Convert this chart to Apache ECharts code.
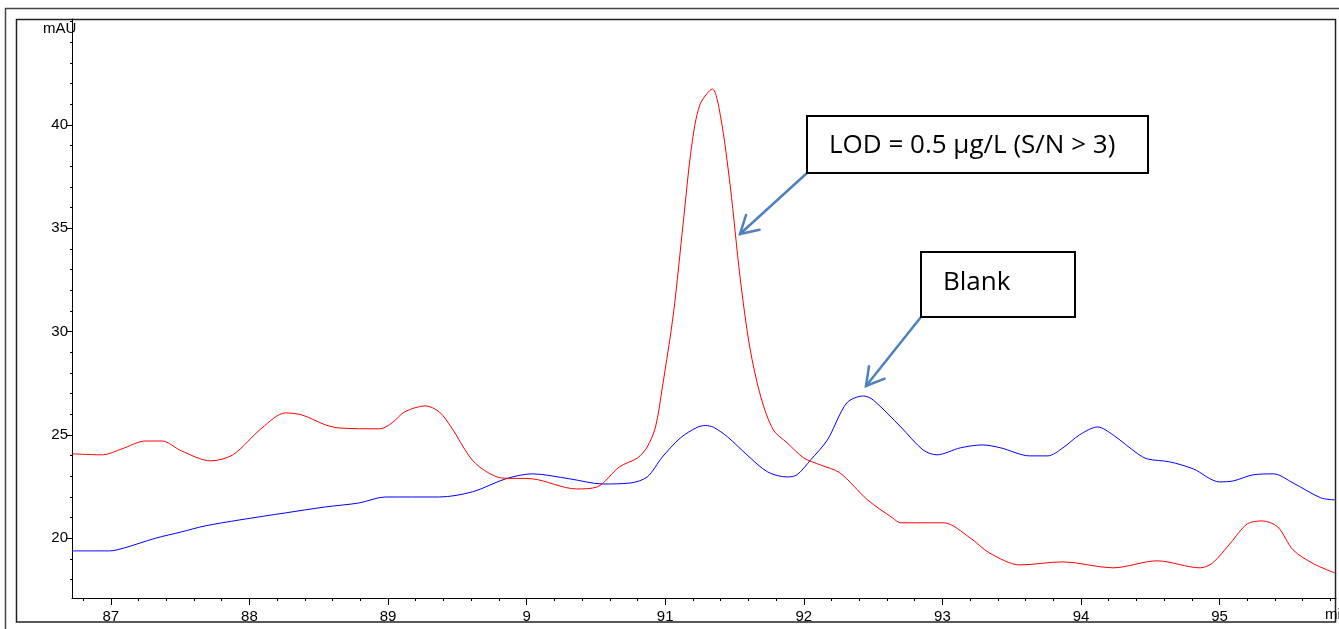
<!DOCTYPE html>
<html>
<head>
<meta charset="utf-8">
<script src="https://cdn.jsdelivr.net/npm/echarts@6/dist/echarts.min.js"></script>
<style>
html, body { margin: 0; padding: 0; background: #fff; }
#chart { width: 1339px; height: 629px; }
</style>
</head>
<body>
<div id="chart"></div>
<script>
// sample trace (red)
var timeSample = [8.672, 8.694, 8.708, 8.725, 8.737, 8.751, 8.772, 8.788, 8.809, 8.826, 8.838, 8.855, 8.865, 8.894, 8.903, 8.912, 8.927, 8.937, 8.946, 8.959, 8.968, 8.982, 9.004, 9.036, 9.051, 9.067, 9.080, 9.087, 9.093, 9.098, 9.106, 9.113, 9.119, 9.125, 9.134, 9.140, 9.147, 9.154, 9.161, 9.169, 9.178, 9.188, 9.200, 9.212, 9.226, 9.246, 9.264, 9.270, 9.301, 9.320, 9.334, 9.356, 9.387, 9.423, 9.455, 9.486, 9.495, 9.508, 9.520, 9.531, 9.542, 9.553, 9.568, 9.583];
var absSample = [2.408, 2.403, 2.432, 2.470, 2.470, 2.422, 2.374, 2.403, 2.533, 2.606, 2.596, 2.548, 2.533, 2.529, 2.558, 2.611, 2.640, 2.611, 2.533, 2.393, 2.335, 2.291, 2.287, 2.238, 2.248, 2.345, 2.388, 2.441, 2.538, 2.732, 3.090, 3.526, 3.894, 4.097, 4.174, 4.039, 3.700, 3.264, 2.925, 2.683, 2.524, 2.461, 2.388, 2.354, 2.316, 2.185, 2.098, 2.074, 2.074, 2.001, 1.928, 1.870, 1.885, 1.856, 1.890, 1.856, 1.880, 1.977, 2.069, 2.083, 2.054, 1.943, 1.875, 1.832];

// blank trace (blue)
var timeBlank = [8.672, 8.699, 8.710, 8.732, 8.751, 8.768, 8.793, 8.826, 8.855, 8.879, 8.898, 8.937, 8.961, 8.985, 9.004, 9.031, 9.055, 9.075, 9.087, 9.098, 9.111, 9.123, 9.129, 9.135, 9.145, 9.159, 9.174, 9.188, 9.195, 9.205, 9.217, 9.231, 9.243, 9.250, 9.270, 9.286, 9.296, 9.313, 9.329, 9.342, 9.363, 9.376, 9.387, 9.399, 9.412, 9.423, 9.441, 9.448, 9.464, 9.481, 9.500, 9.510, 9.524, 9.539, 9.553, 9.573, 9.583];
var absBlank = [1.938, 1.938, 1.953, 1.999, 2.030, 2.059, 2.088, 2.122, 2.151, 2.170, 2.199, 2.199, 2.224, 2.287, 2.311, 2.287, 2.262, 2.267, 2.296, 2.393, 2.485, 2.536, 2.545, 2.536, 2.490, 2.403, 2.320, 2.296, 2.306, 2.379, 2.475, 2.654, 2.688, 2.669, 2.538, 2.427, 2.403, 2.437, 2.451, 2.437, 2.398, 2.398, 2.437, 2.500, 2.538, 2.500, 2.408, 2.383, 2.369, 2.335, 2.272, 2.277, 2.306, 2.311, 2.267, 2.195, 2.185];

// axis ticks
var xTickValues = [8.7, 8.8, 8.9, 9.0, 9.1, 9.2, 9.3, 9.4, 9.5];
var xTickLabels = ['87', '88', '89', '9', '91', '92', '93', '94', '95'];
var yTickValues = [2.0, 2.5, 3.0, 3.5, 4.0];
var yTickLabels = ['20', '25', '30', '35', '40'];

var xMinor = [];
for (var i = 434; i <= 479; i++) { xMinor.push(i * 0.02); }
var yMinor = [];
for (var j = 18; j <= 45; j++) { yMinor.push(j * 0.1); }

function pairs(xs, ys) {
	var out = [];
	for (var k = 0; k < xs.length; k++) { out.push([xs[k], ys[k]]); }
	return out;
}

function lookup(values, labels) {
	return function(v) {
		for (var k = 0; k < values.length; k++) {
			if (Math.abs(values[k] - v) < 1e-6) return labels[k];
		}
		return '';
	};
}

// open arrow (line + V head) for the callouts
function arrow(x1, y1, x2, y2) {
	var a = Math.atan2(y1 - y2, x1 - x2);
	var len = 20, spread = Math.PI / 6;
	var st = { stroke: '#4f81bd', lineWidth: 2.5, lineCap: 'round' };
	return [
		{ type: 'line', shape: { x1: x1, y1: y1, x2: x2, y2: y2 }, style: st },
		{ type: 'polyline', shape: { points: [
			[x2 + len * Math.cos(a + spread), y2 + len * Math.sin(a + spread)],
			[x2, y2],
			[x2 + len * Math.cos(a - spread), y2 + len * Math.sin(a - spread)]
		] }, style: st }
	];
}

var XMIN = 8.672, XMAX = 9.584, YMIN = 1.71, YMAX = 4.513;
var labelFont = { color: '#000', fontFamily: 'Liberation Sans', fontSize: 15 };

var myChart = echarts.init(document.getElementById('chart'));
var option = {
	backgroundColor: '#fff',
	animation: false,
	grid: { left: 72, right: 3, top: 19, bottom: 31 },
	xAxis: [{
		type: 'value', min: XMIN, max: XMAX,
		axisLine: { show: true, lineStyle: { color: '#000', width: 1 } },
		axisTick: { show: true, customValues: xTickValues, length: 7, lineStyle: { color: '#000' } },
		axisLabel: Object.assign({ customValues: xTickValues, formatter: lookup(xTickValues, xTickLabels), margin: 11 }, labelFont),
		splitLine: { show: false }
	}, {
		type: 'value', min: XMIN, max: XMAX, position: 'bottom',
		axisLine: { show: false },
		axisTick: { show: true, customValues: xMinor, length: 3, lineStyle: { color: '#000' } },
		axisLabel: { show: false },
		splitLine: { show: false }
	}],
	yAxis: [{
		type: 'value', min: YMIN, max: YMAX,
		axisLine: { show: true, lineStyle: { color: '#000', width: 1 } },
		axisTick: { show: true, customValues: yTickValues, length: 5, lineStyle: { color: '#000' } },
		axisLabel: Object.assign({ customValues: yTickValues, formatter: lookup(yTickValues, yTickLabels), margin: 4 }, labelFont),
		splitLine: { show: false }
	}, {
		type: 'value', min: YMIN, max: YMAX, position: 'left',
		axisLine: { show: false },
		axisTick: { show: true, customValues: yMinor, length: 2, lineStyle: { color: '#000' } },
		axisLabel: { show: false },
		splitLine: { show: false }
	}],
	series: [{
		name: 'Sample',
		type: 'line',
		data: pairs(timeSample, absSample),
		showSymbol: false,
		smooth: 0.3,
		lineStyle: { color: '#ff0000', width: 1 },
		z: 3
	}, {
		name: 'Blank',
		type: 'line',
		data: pairs(timeBlank, absBlank),
		showSymbol: false,
		smooth: 0.3,
		lineStyle: { color: '#0000ff', width: 1 },
		z: 2
	}],
	graphic: [
		{ type: 'polyline', shape: { points: [[5.5, 629], [5.5, 8.5], [1339, 8.5]] }, style: { stroke: '#444', lineWidth: 1.5, fill: null } },
		{ type: 'rect', shape: { x: 16.5, y: 19.5, width: 1319, height: 602.5 }, style: { stroke: '#222', lineWidth: 1.5, fill: null }, silent: true },
		{ type: 'text', left: 43, top: 21, style: { text: 'mAU', font: '15px "Liberation Sans"', fill: '#000' } },
		{ type: 'text', left: 1325, top: 607, style: { text: 'min', font: '15px "Liberation Sans"', fill: '#000' } }
	].concat(arrow(807, 173, 740, 234), arrow(921, 317, 866, 386), [
		{ type: 'rect', shape: { x: 807, y: 116, width: 341, height: 57 }, style: { stroke: '#000', lineWidth: 2, fill: '#fff' }, z: 10 },
		{ type: 'text', x: 829, y: 146, z: 11, style: { text: 'LOD = 0.5 μg/L (S/N > 3)', font: '26px "Open Sans"', fill: '#000', textVerticalAlign: 'middle' } },
		{ type: 'rect', shape: { x: 921, y: 252, width: 154, height: 65 }, style: { stroke: '#000', lineWidth: 2, fill: '#fff' }, z: 10 },
		{ type: 'text', x: 943, y: 283, z: 11, style: { text: 'Blank', font: '26px "Open Sans"', fill: '#000', textVerticalAlign: 'middle' } }
	])
};
myChart.setOption(option);
</script>
</body>
</html>
